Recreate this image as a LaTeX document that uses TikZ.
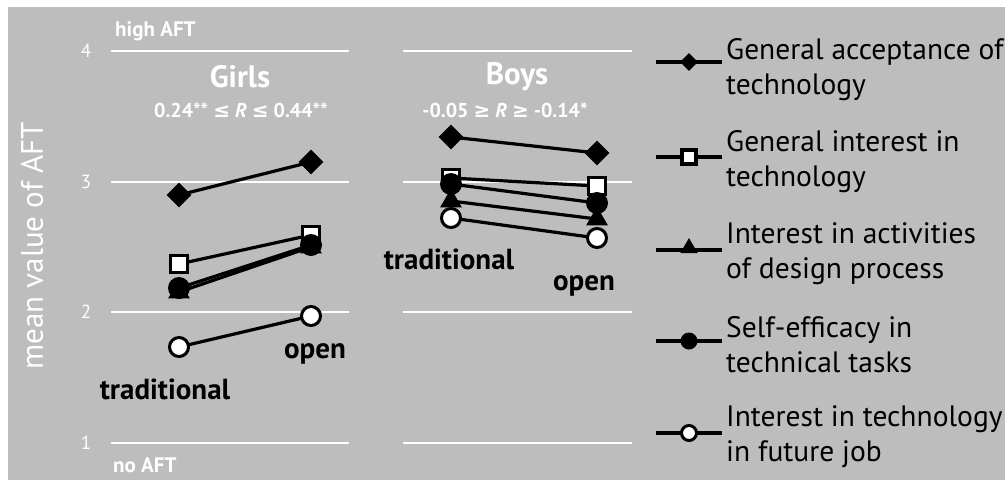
\documentclass[tikz,border=0pt]{standalone}
\usepackage{fontspec}
\setmainfont{PT Sans}
\newfontfamily\symf{DejaVu Sans}
\usetikzlibrary{shapes.geometric}
\pgfdeclarelayer{behind}
\pgfsetlayers{behind,main}
\definecolor{bg}{RGB}{189,189,189}
\tikzset{
  grid/.style={white, line width=2.6pt},
  conn/.style={black, line width=3.2pt},
  legline/.style={black, line width=4pt},
  dia/.style={diamond, fill=black, minimum size=25pt, inner sep=0pt},
  sqm/.style={rectangle, draw=black, line width=3.5pt, fill=white, minimum size=17pt, inner sep=0pt},
  tri/.style={regular polygon, regular polygon sides=3, fill=black, minimum size=25pt, inner sep=0pt},
  fcm/.style={circle, fill=black, minimum size=22pt, inner sep=0pt},
  ocm/.style={circle, draw=black, line width=3pt, fill=white, minimum size=19pt, inner sep=0pt},
  ldia/.style={diamond, fill=black, minimum size=18pt, inner sep=0pt},
  lsq/.style={rectangle, draw=black, line width=3.5pt, fill=white, minimum size=14pt, inner sep=0pt},
  ltri/.style={regular polygon, regular polygon sides=3, fill=black, minimum size=20pt, inner sep=0pt},
  lfc/.style={circle, fill=black, minimum size=17pt, inner sep=0pt},
  loc/.style={circle, draw=black, line width=3pt, fill=white, minimum size=15pt, inner sep=0pt},
  tick/.style={text=white, font=\fontsize{19}{22}\selectfont, inner sep=0pt},
  endl/.style={text=white, font=\bfseries\fontsize{21}{24}\selectfont, inner sep=0pt, anchor=west},
  title/.style={text=white, font=\bfseries\fontsize{31}{34}\selectfont, inner sep=0pt},
  rtext/.style={text=white, font=\bfseries\fontsize{20}{23}\selectfont, inner sep=0pt},
  cond/.style={text=black, font=\bfseries\fontsize{29}{32}\selectfont, inner sep=0pt},
  legt/.style={text=black, font=\fontsize{29.5}{35}\selectfont, inner sep=0pt, anchor=west, align=left},
}
\begin{document}
\begin{tikzpicture}[x=1pt, y=-1pt]
\useasboundingbox (0,0) rectangle (1005,480);
\begin{pgfonlayer}{behind}
\fill[white] (0,0) rectangle (1005,480);
\fill[bg] (8,7) rectangle (1005,480);
\foreach \yy in {51,182,312,443} {
  \draw[grid] (111,\yy) -- (349,\yy);
  \draw[grid] (403,\yy) -- (632,\yy);
}
\end{pgfonlayer}
% ticks
\node[tick] (t4) at (86,51) {4};
\node[tick] (t3) at (86,182) {3};
\node[tick] (t2) at (86,312) {2};
\node[tick] (t1) at (86,443) {1};
\node[endl] (hi) at (115,31) {high AFT};
\node[endl] (lo) at (113,465) {no AFT};
\node[text=white, font=\fontsize{31}{34}\selectfont, rotate=90, inner sep=0pt] (ylab) at (32,246) {mean value of AFT};
% titles
\node[title] (girls) at (240,77) {Girls};
\node[rtext] (rg) at (241,110) {0.24** {\symf\bfseries ≤} \textit{R} {\symf\bfseries ≤} 0.44**};
\node[title] (boys) at (517,77) {Boys};
\node[rtext] (rb) at (505,110) {-0.05 {\symf\bfseries ≥} \textit{R} {\symf\bfseries ≥} -0.14*};
% condition labels
\node[cond] (gtrad) at (165,389) {traditional};
\node[cond] (gopen) at (315,354) {open};
\node[cond] (btrad) at (449,259) {traditional};
\node[cond] (bopen) at (584,286) {open};
% Girls data
\node[dia] (gdt) at (179,195) {};
\node[dia] (gdo) at (311,162) {};
\node[sqm] (gst) at (179,264) {};
\node[sqm] (gso) at (311,235) {};
\node[tri] (gtt) at (179,292) {};
\node[tri] (gto) at (311,247) {};
\node[fcm] (gft) at (179,288) {};
\node[fcm] (gfo) at (311,245) {};
\node[ocm] (got) at (179,347) {};
\node[ocm] (goo) at (311,316) {};
% Boys data
\node[dia] (bdt) at (451,137) {};
\node[dia] (bdo) at (597,153) {};
\node[sqm] (bst) at (451,178) {};
\node[sqm] (bso) at (597,186) {};
\node[tri] (btt) at (451,201) {};
\node[tri] (bto) at (597,219) {};
\node[fcm] (bft) at (451,184) {};
\node[fcm] (bfo) at (597,203) {};
\node[ocm] (bot) at (451,218) {};
\node[ocm] (boo) at (597,238) {};
% connectors
\begin{pgfonlayer}{behind}
\draw[conn] (gdt.center) -- (gdo.center);
\draw[conn] (gst.center) -- (gso.center);
\draw[conn] (gtt.center) -- (gto.center);
\draw[conn] (gft.center) -- (gfo.center);
\draw[conn] (got.center) -- (goo.center);
\draw[conn] (bdt.center) -- (bdo.center);
\draw[conn] (bst.center) -- (bso.center);
\draw[conn] (btt.center) -- (bto.center);
\draw[conn] (bft.center) -- (bfo.center);
\draw[conn] (bot.center) -- (boo.center);
\end{pgfonlayer}
% legend
\coordinate (la1) at (656,62);  \coordinate (lb1) at (722,62);
\coordinate (la2) at (656,157); \coordinate (lb2) at (722,157);
\coordinate (la3) at (656,250); \coordinate (lb3) at (722,250);
\coordinate (la4) at (656,341); \coordinate (lb4) at (722,341);
\coordinate (la5) at (656,433); \coordinate (lb5) at (722,433);
\draw[legline] (la1) -- (lb1);
\draw[legline] (la2) -- (lb2);
\draw[legline] (la3) -- (lb3);
\draw[legline] (la4) -- (lb4);
\draw[legline] (la5) -- (lb5);
\node[ldia] (lm1) at (689,62) {};
\node[lsq] (lm2) at (689,157) {};
\node[ltri] (lm3) at (689,248) {};
\node[lfc] (lm4) at (689,341) {};
\node[loc] (lm5) at (689,433) {};
\node[legt] (lt1) at (726,70) {General acceptance of\\technology};
\node[legt] (lt2) at (726,162) {General interest in\\technology};
\node[legt] (lt3) at (726,254) {Interest in activities\\of design process};
\node[legt] (lt4) at (726,345) {Self-efficacy in\\technical tasks};
\node[legt] (lt5) at (726,437) {Interest in technology\\in future job};
\end{tikzpicture}
\end{document}
